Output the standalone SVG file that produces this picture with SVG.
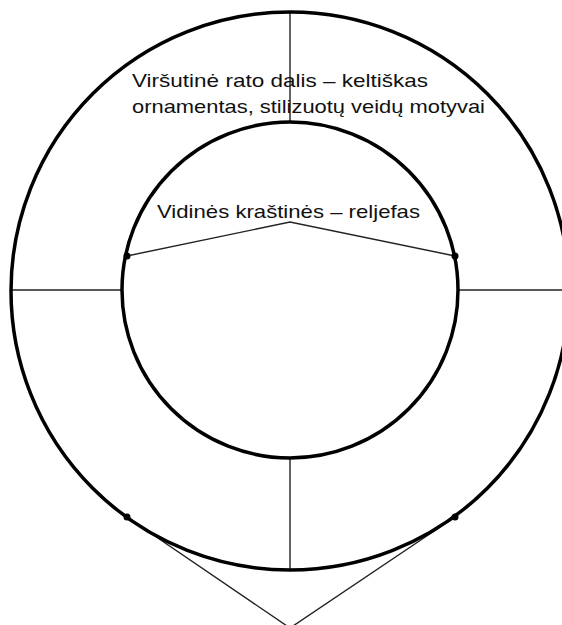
<svg xmlns="http://www.w3.org/2000/svg" width="562" height="625" viewBox="0 0 562 625">
<style>
.ring{fill:none;stroke:#000;stroke-width:3.5}
.ln{fill:none;stroke:#222;stroke-width:1.4}
.dot{fill:#000}
.lbl{font-family:"Liberation Sans",Arial,sans-serif;font-size:19px;fill:#111}
</style>
<rect width="562" height="625" fill="#fff"/>
<g id="connectors">
<line class="ln" x1="290" y1="12" x2="290" y2="122"/>
<line class="ln" x1="290" y1="458" x2="290" y2="570"/>
<line class="ln" x1="11" y1="290" x2="122" y2="290"/>
<line class="ln" x1="458" y1="290" x2="562" y2="290"/>
<polyline class="ln" points="127,256 290,222 455,256"/>
<polyline class="ln" points="127,517 290,628 455,517"/>
</g>
<g id="outer-ring">
<circle class="ring" cx="290" cy="291" r="279"/>
<circle class="dot" cx="127" cy="517" r="3.5"/>
<circle class="dot" cx="455" cy="517" r="3.5"/>
</g>
<g id="inner-ring">
<circle class="ring" cx="290" cy="290" r="168"/>
<circle class="dot" cx="127" cy="256" r="3.5"/>
<circle class="dot" cx="455" cy="256" r="3.5"/>
</g>
<g id="label-top">
<text class="lbl" x="132" y="87" textLength="296" lengthAdjust="spacingAndGlyphs">Viršutinė rato dalis – keltiškas</text>
<text class="lbl" x="132" y="113" textLength="353" lengthAdjust="spacingAndGlyphs">ornamentas, stilizuotų veidų motyvai</text>
</g>
<g id="label-inner">
<text class="lbl" x="157" y="218" textLength="263" lengthAdjust="spacingAndGlyphs">Vidinės kraštinės – reljefas</text>
</g>
</svg>
